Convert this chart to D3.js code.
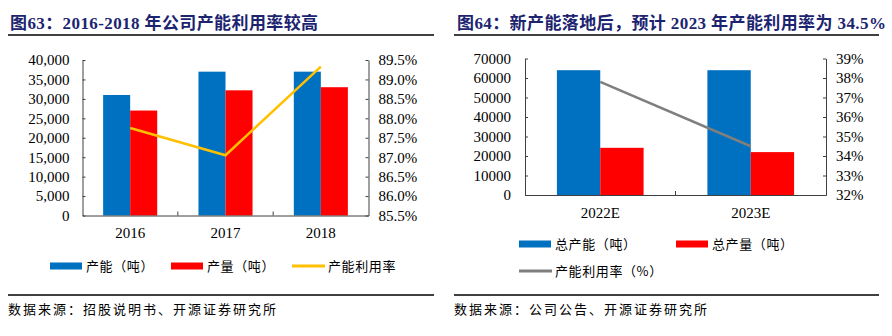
<!DOCTYPE html>
<html>
<head>
<meta charset="utf-8">
<script src="https://cdn.jsdelivr.net/npm/d3@7"></script>
<style>
  body { margin: 0; background: #fff; }
  svg { display: block; }
  .title { font-family: 'Liberation Serif', 'Noto Sans CJK SC', serif; font-weight: bold; font-size: 17px; fill: #1c2470; letter-spacing: 0.4px; }
  .axis text { font-family: 'Liberation Serif', serif; font-size: 15px; fill: #000; }
  .axis path, .axis line { stroke: #404040; }
  .legend text { font-family: 'Noto Sans CJK SC', sans-serif; font-size: 13px; fill: #000; }
  .source { font-family: 'Noto Sans CJK SC', sans-serif; font-size: 13px; fill: #000; }
</style>
</head>
<body>
<div id="chart"></div>
<script>
// Left panel: 2016-2018
var yearsA = ['2016', '2017', '2018'];
var capacityA = [31000, 37000, 37000];
var outputA = [27000, 32200, 33000];
var utilA = [87.75, 87.05, 89.33];
var leftTicksA = [0, 5000, 10000, 15000, 20000, 25000, 30000, 35000, 40000];
var rightTicksA = [85.5, 86.0, 86.5, 87.0, 87.5, 88.0, 88.5, 89.0, 89.5];

// Right panel: 2022E-2023E
var yearsB = ['2022E', '2023E'];
var capacityB = [64000, 64000];
var outputB = [24200, 22000];
var utilB = [37.8, 34.5];
var leftTicksB = [0, 10000, 20000, 30000, 40000, 50000, 60000, 70000];
var rightTicksB = [32, 33, 34, 35, 36, 37, 38, 39];

var blue = '#0070C0';
var red = '#FF0000';

var svg = d3.select('#chart').append('svg').attr('width', 892).attr('height', 336);

function drawPanel(cfg) {
  var g = svg.append('g');

  // Title and rules
  g.append('text').attr('class', 'title').attr('x', cfg.titleX).attr('y', 29).text(cfg.title);
  g.append('line').attr('x1', cfg.ruleX0).attr('x2', cfg.ruleX1).attr('y1', 35).attr('y2', 35)
    .attr('stroke', '#000').attr('stroke-width', 1.5);
  g.append('line').attr('x1', cfg.ruleX0).attr('x2', cfg.ruleX1).attr('y1', 295).attr('y2', 295)
    .attr('stroke', '#000').attr('stroke-width', 1.5);
  g.append('text').attr('class', 'source').attr('x', cfg.ruleX0).attr('y', 314)
    .attr('textLength', cfg.sourceLen).attr('lengthAdjust', 'spacing').text(cfg.source);

  // Scales
  var x = d3.scaleBand().domain(cfg.cats).range([cfg.x0, cfg.x1]);
  var yL = d3.scaleLinear().domain([cfg.leftTicks[0], cfg.leftTicks[cfg.leftTicks.length - 1]])
    .range([cfg.yBottom, cfg.yTop]);
  var yR = d3.scaleLinear().domain([cfg.rightTicks[0], cfg.rightTicks[cfg.rightTicks.length - 1]])
    .range([cfg.yBottom, cfg.yTop]);

  // Bars
  var groupW = x.bandwidth() * cfg.groupFrac;
  var barW = groupW / 2;
  var bars = [
    { vals: cfg.capacity, color: blue, off: 0 },
    { vals: cfg.output, color: red, off: 1 }
  ];
  bars.forEach(function (s) {
    g.selectAll(null)
      .data(cfg.cats)
      .enter()
      .append('rect')
      .attr('x', function (d) { return x(d) + (x.bandwidth() - groupW) / 2 + s.off * barW; })
      .attr('width', barW)
      .attr('y', function (d, i) { return yL(s.vals[i]); })
      .attr('height', function (d, i) { return yL(0) - yL(s.vals[i]); })
      .attr('fill', s.color);
  });

  // Axes
  g.append('g').attr('class', 'axis').attr('transform', 'translate(' + cfg.x0 + ',0)')
    .call(d3.axisLeft(yL).tickValues(cfg.leftTicks).tickSizeInner(-3).tickSizeOuter(0)
      .tickPadding(cfg.leftPad).tickFormat(cfg.leftFmt));
  g.append('g').attr('class', 'axis').attr('transform', 'translate(' + cfg.x1 + ',0)')
    .call(d3.axisRight(yR).tickValues(cfg.rightTicks).tickSizeInner(-3).tickSizeOuter(0)
      .tickPadding(cfg.rightPad).tickFormat(cfg.rightFmt));
  var xAxis = g.append('g').attr('class', 'axis').attr('transform', 'translate(0,' + cfg.yBottom + ')')
    .call(d3.axisBottom(x).tickSize(0).tickPadding(cfg.xPad));
  xAxis.selectAll('.tick line').remove();
  // category separators
  xAxis.selectAll('.sep')
    .data(cfg.cats.slice(1))
    .enter()
    .append('line')
    .attr('x1', function (d) { return x(d); })
    .attr('x2', function (d) { return x(d); })
    .attr('y1', 0).attr('y2', -4)
    .attr('stroke', '#404040');

  // Utilisation line
  var line = d3.line()
    .x(function (d, i) { return x(cfg.cats[i]) + x.bandwidth() / 2; })
    .y(function (d) { return yR(d); });
  g.append('path').datum(cfg.util).attr('d', line)
    .attr('fill', 'none').attr('stroke', cfg.lineColor).attr('stroke-width', 2.5);

  // Legend
  var lg = g.append('g').attr('class', 'legend');
  cfg.legend.forEach(function (item) {
    if (item.type === 'rect') {
      lg.append('rect').attr('x', item.x).attr('y', item.y - 3.5).attr('width', 32).attr('height', 7)
        .attr('fill', item.color);
    } else {
      lg.append('line').attr('x1', item.x).attr('x2', item.x + 33).attr('y1', item.y).attr('y2', item.y)
        .attr('stroke', item.color).attr('stroke-width', 3);
    }
    lg.append('text').attr('x', item.x + 36).attr('y', item.y + 4.5)
      .attr('letter-spacing', '0.6px').text(item.label);
  });
}

drawPanel({
  title: '图63：2016-2018 年公司产能利用率较高',
  titleX: 10, ruleX0: 8, ruleX1: 434,
  source: '数据来源：招股说明书、开源证券研究所', sourceLen: 268,
  cats: yearsA, capacity: capacityA, output: outputA, util: utilA,
  leftTicks: leftTicksA, rightTicks: rightTicksA,
  leftFmt: d3.format(','), rightFmt: function (d) { return d.toFixed(1) + '%'; },
  x0: 82.5, x1: 368.5, yTop: 60, yBottom: 215.5, groupFrac: 0.567,
  leftPad: 13, rightPad: 10, xPad: 11.5,
  lineColor: '#FFC000',
  legend: [
    { type: 'rect', x: 50, y: 266, color: blue, label: '产能（吨）' },
    { type: 'rect', x: 171, y: 266, color: red, label: '产量（吨）' },
    { type: 'line', x: 292, y: 266, color: '#FFC000', label: '产能利用率' }
  ]
});

drawPanel({
  title: '图64：新产能落地后，预计 2023 年产能利用率为 34.5%',
  titleX: 457, ruleX0: 454, ruleX1: 879,
  source: '数据来源：公司公告、开源证券研究所', sourceLen: 253,
  cats: yearsB, capacity: capacityB, output: outputB, util: utilB,
  leftTicks: leftTicksB, rightTicks: rightTicksB,
  leftFmt: d3.format('d'), rightFmt: function (d) { return d + '%'; },
  x0: 525, x1: 826, yTop: 58.5, yBottom: 195, groupFrac: 0.576,
  leftPad: 14, rightPad: 10, xPad: 12.5,
  lineColor: '#7F7F7F',
  legend: [
    { type: 'rect', x: 519, y: 244, color: blue, label: '总产能（吨）' },
    { type: 'rect', x: 676, y: 244, color: red, label: '总产量（吨）' },
    { type: 'line', x: 519, y: 271, color: '#7F7F7F', label: '产能利用率（%）' }
  ]
});
</script>
</body>
</html>
